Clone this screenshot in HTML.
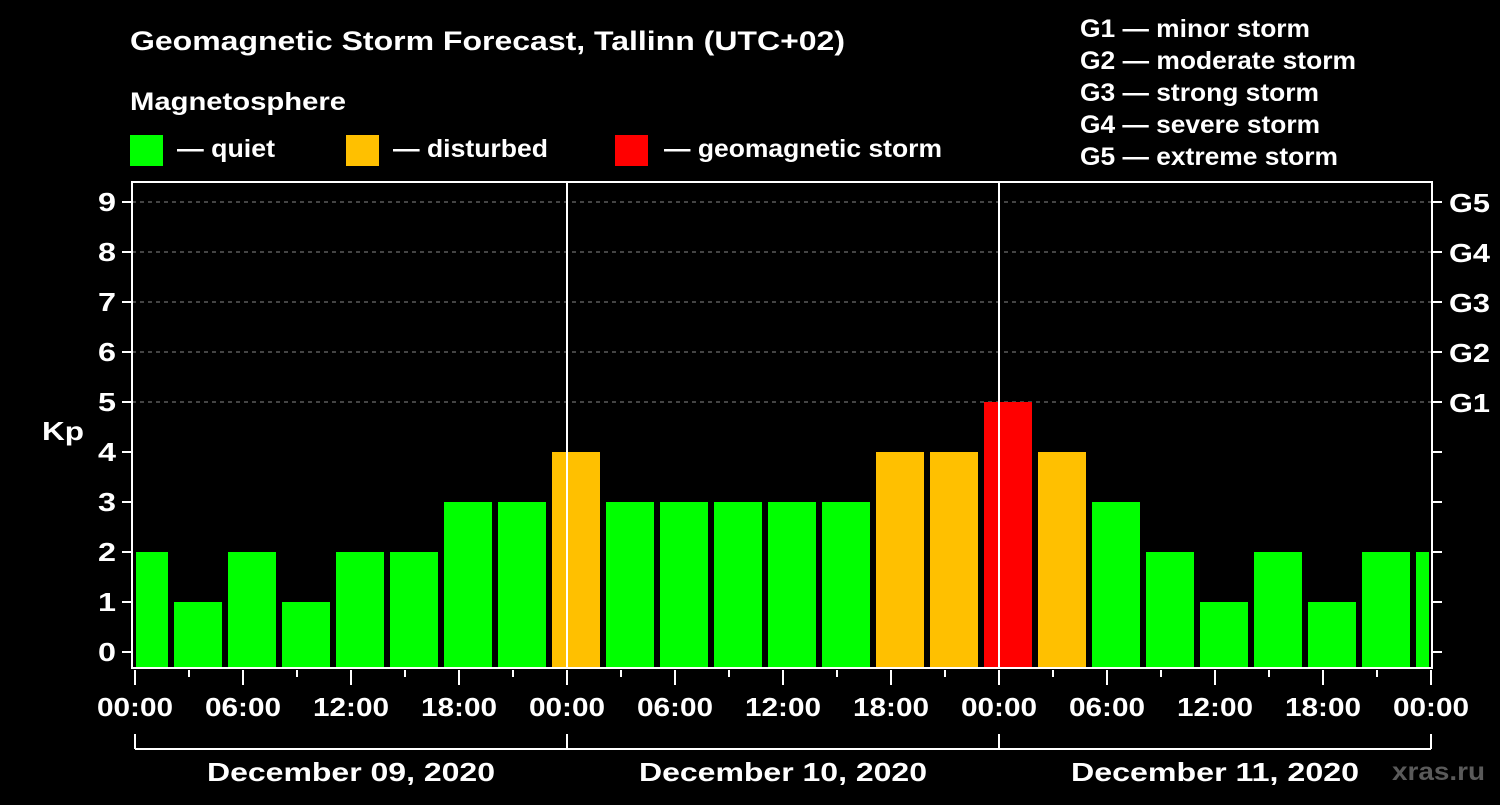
<!DOCTYPE html>
<html><head><meta charset="utf-8"><style>
body{margin:0;background:#000;width:1500px;height:800px;overflow:hidden}
svg text{font-family:"Liberation Sans",Arial,sans-serif;font-weight:bold;fill:#fff}
</style></head><body>
<svg id="c" width="1500" height="800">
<text x="130" y="50" font-size="27" textLength="715" lengthAdjust="spacingAndGlyphs">Geomagnetic Storm Forecast, Tallinn (UTC+02)</text>
<text x="130" y="110" font-size="25" textLength="216" lengthAdjust="spacingAndGlyphs">Magnetosphere</text>
<rect x="130" y="135" width="33" height="31" fill="#00ff00"/>
<text x="177" y="157" font-size="25" textLength="98" lengthAdjust="spacingAndGlyphs">— quiet</text>
<rect x="346" y="135" width="33" height="31" fill="#ffc000"/>
<text x="393" y="157" font-size="25" textLength="155" lengthAdjust="spacingAndGlyphs">— disturbed</text>
<rect x="615" y="135" width="33" height="31" fill="#ff0000"/>
<text x="664" y="157" font-size="25" textLength="278" lengthAdjust="spacingAndGlyphs">— geomagnetic storm</text>
<g font-size="25">
<text x="1080" y="37" textLength="230" lengthAdjust="spacingAndGlyphs">G1 — minor storm</text>
<text x="1080" y="69" textLength="276" lengthAdjust="spacingAndGlyphs">G2 — moderate storm</text>
<text x="1080" y="101" textLength="239" lengthAdjust="spacingAndGlyphs">G3 — strong storm</text>
<text x="1080" y="133" textLength="240" lengthAdjust="spacingAndGlyphs">G4 — severe storm</text>
<text x="1080" y="165" textLength="258" lengthAdjust="spacingAndGlyphs">G5 — extreme storm</text>
</g>
<text x="42" y="440" font-size="26" textLength="42" lengthAdjust="spacingAndGlyphs">Kp</text>
<text x="1392" y="780" font-size="25" textLength="93" lengthAdjust="spacingAndGlyphs" style="fill:#5a5a5a">xras.ru</text>
<g id="grid"></g><g id="bars"></g><g id="axes"></g>
</svg>
<script>
const kpValues=[2,1,2,1,2,2,3,3,4,3,3,3,3,3,4,4,5,4,3,2,1,2,1,2,2];
const yTicks=[0,1,2,3,4,5,6,7,8,9];
const gLabels=["G1","G2","G3","G4","G5"];
const xTickLabels=["00:00","06:00","12:00","18:00","00:00","06:00","12:00","18:00","00:00","06:00","12:00","18:00","00:00"];
const dayLabels=["December 09, 2020","December 10, 2020","December 11, 2020"];
const NS="http://www.w3.org/2000/svg";
const L=132,R=1432,T=182,B=668;
const x=h=>135+18*h;
const y=v=>652-50*v;
function mk(tag,attrs,parent,txt){const e=document.createElementNS(NS,tag);for(const k in attrs)e.setAttribute(k,attrs[k]);if(txt!==undefined)e.textContent=txt;document.getElementById(parent).appendChild(e);return e;}
for(let v=5;v<=9;v++){const e=mk('line',{x1:L,x2:R,y1:y(v),y2:y(v),stroke:'#888','stroke-dasharray':'4,4','stroke-width':1},'grid');

}
kpValues.forEach((v,k)=>{const c=0.5+3*k;let x0=Math.max(x(c)-24,136),x1=Math.min(x(c)+24,1429);
const col=v>=5?'#ff0000':(v>=4?'#ffc000':'#00ff00');
const e=mk('rect',{x:x0,y:y(v),width:x1-x0,height:B-y(v),fill:col},'bars');

});
[1,2].forEach(d=>{const e=mk('line',{x1:x(24*d),x2:x(24*d),y1:T,y2:B,stroke:'#fff','stroke-width':2},'axes');

});
const f=mk('rect',{x:L,y:T,width:R-L,height:B-T,fill:'none',stroke:'#fff','stroke-width':2},'axes');


yTicks.forEach(v=>{mk('line',{x1:122,x2:L,y1:y(v),y2:y(v),stroke:'#fff','stroke-width':2},'axes');
mk('line',{x1:R,x2:1442,y1:y(v),y2:y(v),stroke:'#fff','stroke-width':2},'axes');
const t=mk('text',{x:116,y:y(v)+9,'font-size':26,'text-anchor':'end',textLength:18,lengthAdjust:'spacingAndGlyphs'},'axes',String(v));

});
gLabels.forEach((g,i)=>{const t=mk('text',{x:1449,y:y(5+i)+10,'font-size':26,textLength:41,lengthAdjust:'spacingAndGlyphs'},'axes',g);

});
for(let h=0;h<=72;h+=3){const major=h%6===0;mk('line',{x1:x(h),x2:x(h),y1:B+2,y2:major?B+17:B+9,stroke:'#fff','stroke-width':2},'axes');}
xTickLabels.forEach((s,i)=>{const t=mk('text',{x:x(6*i)-38,y:716,'font-size':26,textLength:76,lengthAdjust:'spacingAndGlyphs'},'axes',s);

});
mk('line',{x1:x(0),x2:x(72),y1:749,y2:749,stroke:'#fff','stroke-width':2},'axes');
for(let d=0;d<=3;d++)mk('line',{x1:x(24*d),x2:x(24*d),y1:734,y2:749,stroke:'#fff','stroke-width':2},'axes');
dayLabels.forEach((s,i)=>{const t=mk('text',{x:x(24*i+12)-144,y:781,'font-size':26,textLength:288,lengthAdjust:'spacingAndGlyphs'},'axes',s);

});
</script>
</body></html>
